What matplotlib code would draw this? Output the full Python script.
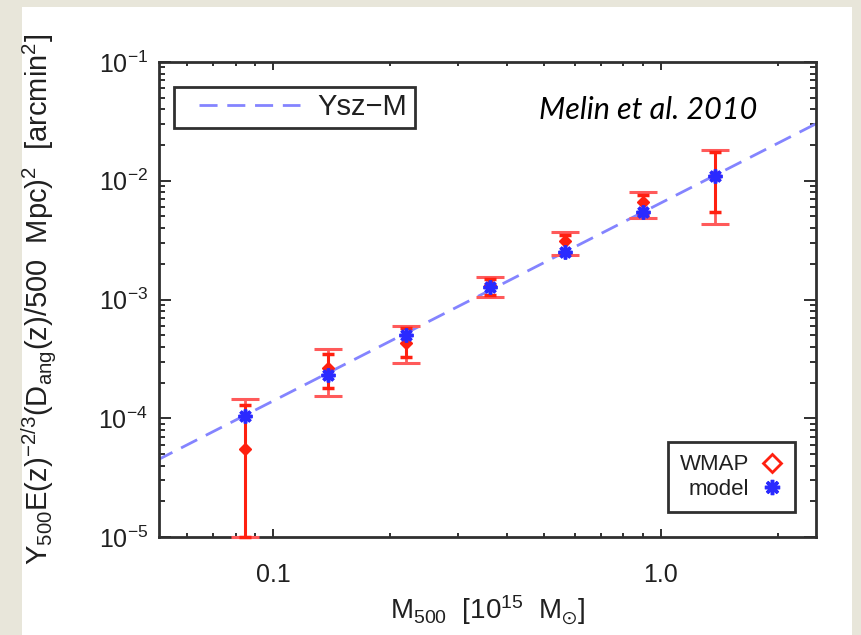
import matplotlib
matplotlib.use("Agg")
import matplotlib.pyplot as plt
from matplotlib.lines import Line2D
from matplotlib.patches import Rectangle
from matplotlib.ticker import FixedLocator, FixedFormatter, LogLocator, NullFormatter

plt.rcParams['font.family'] = ['Liberation Sans', 'DejaVu Sans']
plt.rcParams['mathtext.fontset'] = 'custom'
plt.rcParams['mathtext.rm'] = 'Liberation Sans'
plt.rcParams['mathtext.it'] = 'Liberation Sans:italic'
plt.rcParams['mathtext.default'] = 'regular'

# cluster mass bins [1e15 Msun]
mass = [0.0847, 0.1388, 0.2203, 0.3625, 0.566, 0.897, 1.377]
# WMAP measured Y500 and model values [arcmin^2]
y_wmap = [5.5e-5, 2.65e-4, 4.27e-4, 1.32e-3, 3.13e-3, 6.67e-3, 1.10e-2]
y_model = [1.04e-4, 2.31e-4, 5.02e-4, 1.27e-3, 2.53e-3, 5.5e-3, 1.10e-2]
# inner (narrow cap) error range
inner_hi = [1.29e-4, 3.47e-4, 5.75e-4, 1.49e-3, 3.49e-3, 7.6e-3, 1.75e-2]
inner_lo = [1.0e-5, 1.79e-4, 3.26e-4, 1.09e-3, 2.45e-3, 5.1e-3, 5.5e-3]
# outer (wide cap) error range
outer_hi = [1.45e-4, 3.81e-4, 5.98e-4, 1.556e-3, 3.72e-3, 8.1e-3, 1.82e-2]
outer_lo = [1.0e-5, 1.55e-4, 2.9e-4, 1.04e-3, 2.37e-3, 4.9e-3, 4.33e-3]
# Ysz-M scaling relation end points
line_m = [0.05, 2.5]
line_y = [4.4e-5, 3.0e-2]

fig = plt.figure(figsize=(8.62, 6.35), dpi=100)
fig.patch.set_facecolor('#e8e6da')
fig.patches.append(Rectangle((22 / 862, 0), 830 / 862, 628 / 635,
                             transform=fig.transFigure, facecolor='white',
                             edgecolor='none', zorder=-10))

ax = fig.add_axes([159 / 862, 1 - 537 / 635, 657 / 862, 475 / 635])
ax.set_xscale('log')
ax.set_yscale('log')
ax.set_xlim(0.0508, 2.51)
ax.set_ylim(1e-5, 1e-1)

ax.plot(line_m, line_y, color='#8484ff', lw=2, ls=(0, (6.5, 3.5)), zorder=2)

outer_err = [[y - l for y, l in zip(y_wmap, outer_lo)],
             [h - y for y, h in zip(y_wmap, outer_hi)]]
inner_err = [[y - l for y, l in zip(y_wmap, inner_lo)],
             [h - y for y, h in zip(y_wmap, inner_hi)]]
ax.errorbar(mass, y_wmap, yerr=outer_err, fmt='none', ecolor='#ff5a5a',
            elinewidth=2, capsize=10, capthick=2.2, zorder=3, clip_on=False)
ax.errorbar(mass, y_wmap, yerr=inner_err, fmt='D', color='#ff2010',
            ms=6, mfc='#ff2010', mec='#ff2010', ecolor='#ff2010',
            elinewidth=2.2, capsize=4.5, capthick=2.5, zorder=4, clip_on=False)
ax.plot(mass, y_model, ls='none', marker=(8, 2, 0), ms=10, mew=2.5,
        color='#2a2aff', zorder=5)

# axes styling
for sp in ax.spines.values():
    sp.set_color('#303030')
    sp.set_linewidth(2)
ax.xaxis.set_major_locator(FixedLocator([0.1, 1.0]))
ax.xaxis.set_major_formatter(FixedFormatter(['0.1', '1.0']))
ax.xaxis.set_minor_locator(LogLocator(base=10, subs=range(2, 10)))
ax.xaxis.set_minor_formatter(NullFormatter())
ax.yaxis.set_minor_locator(LogLocator(base=10, subs=range(2, 10), numticks=20))
ax.yaxis.set_minor_formatter(NullFormatter())
ax.tick_params(which='both', direction='in', top=True, right=True,
               color='#303030', width=1.4, labelsize=18, labelcolor='#202020')
ax.tick_params(axis='y', which='major', length=8.5, pad=8)
ax.tick_params(axis='y', which='minor', length=4.3)
ax.tick_params(axis='x', which='major', length=6, pad=19)
ax.tick_params(axis='x', which='minor', length=3)

ax.set_xlabel(r'M$_{500}$  [10$^{15}$  M$_{\odot}$]', fontsize=20, color='#202020')
ax.xaxis.set_label_coords(0.5, -0.118)
ax.set_ylabel(r'Y$_{500}$E(z)$^{-2/3}$(D$_{ang}$(z)/500  Mpc)$^2$  [arcmin$^2$]',
              fontsize=21, color='#202020')
ax.yaxis.set_label_coords(-0.152, 0.5)

ax.text(0.578, 0.899, 'Melin et al. 2010', transform=ax.transAxes,
        fontsize=22, style='italic', family=['Lato', 'DejaVu Sans'],
        ha='left', va='center', color='black')

# upper-left legend: frame drawn as its own box so the padding matches
ax.add_patch(Rectangle((0.0228, 0.861), 0.3668, 0.086, transform=ax.transAxes,
                       facecolor='white', edgecolor='#303030', lw=2, zorder=6))
leg1 = ax.legend([Line2D([], [], color='#8484ff', lw=2, ls=(0, (6.5, 3.5)))],
                 ['Ysz\u2212M'], loc='center left', bbox_to_anchor=(0.0609, 0.905),
                 borderaxespad=0, borderpad=0, fontsize=21, handlelength=3.46,
                 handletextpad=0.58, frameon=False, labelcolor='#202020')
leg1.set_zorder(7)
ax.add_artist(leg1)

h_wmap = Line2D([], [], ls='none', marker='D', ms=9, mfc='white',
                mec='#ff2010', mew=2)
h_model = Line2D([], [], ls='none', marker=(8, 2, 0), ms=11, mew=2.5,
                 color='#2a2aff')
leg2 = ax.legend([h_wmap, h_model], ['WMAP', 'model'], loc='lower right',
                 bbox_to_anchor=(0.968, 0.0526), borderaxespad=0, fontsize=16,
                 markerfirst=False, handlelength=1, handletextpad=0.5,
                 labelspacing=0.15, fancybox=False, framealpha=1,
                 edgecolor='#303030', borderpad=0.55, labelcolor='#202020')
leg2.get_frame().set_linewidth(2)

fig.savefig('out.png', dpi=100, facecolor=fig.get_facecolor())
